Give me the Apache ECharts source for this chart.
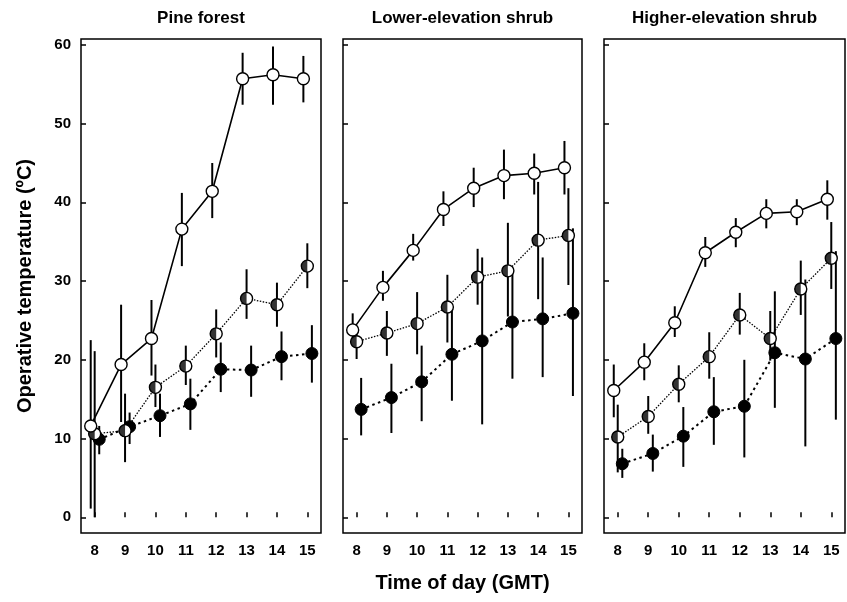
<!DOCTYPE html>
<html>
<head>
<meta charset="utf-8">
<script src="https://cdn.jsdelivr.net/npm/echarts@6/dist/echarts.min.js"></script>
<style>
  html, body { margin: 0; padding: 0; background: #fff; }
  #chart { width: 847px; height: 602px; }
</style>
</head>
<body>
<div id="chart"></div>
<script>
  // hours of the day (GMT) and y ticks
  const hours = [8, 9, 10, 11, 12, 13, 14, 15]
  const yTicks = [0, 10, 20, 30, 40, 50, 60]
  const panelTitles = ['Pine forest', 'Lower-elevation shrub', 'Higher-elevation shrub']

  // Pine forest
  const pine_open = [11.6, 19.4, 22.7, 36.6, 41.4, 55.7, 56.2, 55.7]
  const pine_open_lo = [1.1, 12.1, 18.0, 31.9, 38.0, 52.4, 52.4, 52.7]
  const pine_open_hi = [22.5, 27.0, 27.6, 41.2, 45.0, 59.0, 59.8, 58.6]
  const pine_half = [10.6, 11.0, 16.5, 19.2, 23.3, 27.8, 27.0, 31.9]
  const pine_half_lo = [0.0, 7.0, 14.0, 16.8, 20.3, 25.2, 24.2, 29.1]
  const pine_half_hi = [21.1, 15.7, 19.4, 21.8, 26.4, 31.5, 29.8, 34.8]
  const pine_full = [9.9, 11.5, 12.9, 14.4, 18.8, 18.7, 20.4, 20.8]
  const pine_full_lo = [8.0, 9.3, 10.2, 11.1, 15.9, 15.3, 17.4, 17.1]
  const pine_full_hi = [11.6, 13.3, 15.7, 17.6, 22.2, 21.8, 23.6, 24.4]

  // Lower-elevation shrub
  const low_open = [23.8, 29.2, 33.9, 39.1, 41.8, 43.4, 43.7, 44.4]
  const low_open_lo = [21.8, 27.5, 32.6, 37.0, 39.4, 40.4, 41.0, 41.0]
  const low_open_hi = [25.9, 31.3, 36.0, 41.4, 44.4, 46.7, 46.2, 47.8]
  const low_half = [22.3, 23.4, 24.6, 26.7, 30.5, 31.3, 35.2, 35.8]
  const low_half_lo = [20.1, 20.5, 20.7, 22.2, 27.0, 25.5, 27.7, 29.5]
  const low_half_hi = [24.3, 26.2, 28.6, 30.8, 34.1, 37.4, 42.6, 41.8]
  const low_full = [13.7, 15.2, 17.2, 20.7, 22.4, 24.8, 25.2, 25.9]
  const low_full_lo = [10.4, 10.7, 12.2, 14.8, 11.8, 17.6, 17.8, 15.4]
  const low_full_hi = [17.7, 19.5, 21.8, 26.5, 33.0, 31.4, 33.0, 36.7]

  // Higher-elevation shrub
  const high_open = [16.1, 19.7, 24.7, 33.6, 36.2, 38.6, 38.8, 40.4]
  const high_open_lo = [12.7, 17.4, 22.9, 31.8, 34.3, 36.7, 37.1, 37.8]
  const high_open_hi = [19.4, 22.1, 26.8, 35.6, 38.0, 40.4, 40.4, 42.8]
  const high_half = [10.2, 12.8, 16.9, 20.4, 25.7, 22.7, 29.0, 32.9]
  const high_half_lo = [5.7, 10.6, 14.6, 17.6, 23.2, 19.9, 25.7, 29.0]
  const high_half_hi = [14.3, 15.4, 19.3, 23.5, 28.5, 26.2, 32.6, 37.5]
  const high_full = [6.8, 8.1, 10.3, 13.4, 14.1, 20.9, 20.1, 22.7]
  const high_full_lo = [5.0, 5.8, 6.4, 9.2, 7.6, 13.9, 9.0, 12.4]
  const high_full_hi = [8.7, 10.5, 14.0, 17.8, 20.0, 28.7, 30.2, 33.8]

  const font = 'Liberation Sans, Arial, Helvetica, sans-serif'
  // small horizontal dodge so the three series don't sit on top of each other
  const dodge = { open: -0.13, half: 0.0, full: 0.15 }
  const grids = [
    { left: 81, top: 39, width: 240, height: 494 },
    { left: 343, top: 39, width: 239, height: 494 },
    { left: 604, top: 39, width: 241, height: 494 }
  ]
  const panels = [
    {
      open: [pine_open, pine_open_lo, pine_open_hi],
      half: [pine_half, pine_half_lo, pine_half_hi],
      full: [pine_full, pine_full_lo, pine_full_hi]
    },
    {
      open: [low_open, low_open_lo, low_open_hi],
      half: [low_half, low_half_lo, low_half_hi],
      full: [low_full, low_full_lo, low_full_hi]
    },
    {
      open: [high_open, high_open_lo, high_open_hi],
      half: [high_half, high_half_lo, high_half_hi],
      full: [high_full, high_full_lo, high_full_hi]
    }
  ]

  function points(vals, off) {
    return hours.map((h, i) => [h + off, vals[i]])
  }
  function errRows(lo, hi, off) {
    return hours.map((h, i) => [h + off, lo[i], hi[i]])
  }

  function errorBars(idx, rows) {
    return {
      type: 'custom',
      xAxisIndex: idx, yAxisIndex: idx,
      z: 1,
      silent: true,
      encode: { x: 0, y: [1, 2] },
      data: rows,
      renderItem(params, api) {
        let p1 = api.coord([api.value(0), api.value(1)])
        let p2 = api.coord([api.value(0), api.value(2)])
        return {
          type: 'line',
          shape: { x1: p1[0], y1: p1[1], x2: p2[0], y2: p2[1] },
          style: { stroke: '#000', lineWidth: 2 }
        }
      }
    }
  }

  let xAxes = [], yAxes = [], series = []
  panels.forEach((p, i) => {
    xAxes.push({
      gridIndex: i, type: 'value', min: 7.55, max: 15.45,
      axisLine: { show: false },
      axisTick: { show: true, inside: true, length: 5, customValues: hours, lineStyle: { color: '#000', width: 1.5 } },
      axisLabel: { customValues: hours, color: '#000', fontWeight: 'bold', fontSize: 15, fontFamily: font, margin: 10 },
      splitLine: { show: false },
      name: i === 1 ? 'Time of day (GMT)' : '',
      nameLocation: 'middle',
      nameGap: 40,
      nameTextStyle: { color: '#000', fontWeight: 'bold', fontSize: 20, fontFamily: font }
    })
    yAxes.push({
      gridIndex: i, type: 'value', min: -2, max: 60.75,
      axisLine: { show: false },
      axisTick: { show: true, inside: true, length: 5, customValues: yTicks, lineStyle: { color: '#000', width: 1.5 } },
      axisLabel: { show: i === 0, customValues: yTicks, color: '#000', fontWeight: 'bold', fontSize: 15, fontFamily: font, margin: 10 },
      splitLine: { show: false },
      name: i === 0 ? 'Operative temperature (ºC)' : '',
      nameLocation: 'middle',
      nameGap: 46,
      nameTextStyle: { color: '#000', fontWeight: 'bold', fontSize: 20, fontFamily: font }
    })

    // error bars first so the markers sit on top
    series.push(errorBars(i, errRows(p.open[1], p.open[2], dodge.open)))
    series.push(errorBars(i, errRows(p.half[1], p.half[2], dodge.half)))
    series.push(errorBars(i, errRows(p.full[1], p.full[2], dodge.full)))

    series.push({
      type: 'line', xAxisIndex: i, yAxisIndex: i, z: 3,
      data: points(p.full[0], dodge.full),
      symbol: 'circle', symbolSize: 12,
      itemStyle: { color: '#000', borderColor: '#000', borderWidth: 1 },
      lineStyle: { color: '#000', width: 2, type: [2.5, 3.5] },
      animation: false
    })
    series.push({
      type: 'line', xAxisIndex: i, yAxisIndex: i, z: 4,
      data: points(p.half[0], dodge.half),
      symbol: 'circle', symbolSize: 12,
      itemStyle: { color: '#fff', borderColor: '#000', borderWidth: 1.4 },
      lineStyle: { color: '#000', width: 1.3, type: [1.5, 1.5] },
      animation: false
    })
    // left half of the half-filled markers
    series.push({
      type: 'scatter', xAxisIndex: i, yAxisIndex: i, z: 5,
      data: points(p.half[0], dodge.half),
      symbol: 'path://M10,0 A10,10 0 0 0 10,20 Z',
      symbolSize: [6, 12], symbolOffset: [-3, 0],
      itemStyle: { color: '#000' },
      silent: true,
      animation: false
    })
    series.push({
      type: 'line', xAxisIndex: i, yAxisIndex: i, z: 6,
      data: points(p.open[0], dodge.open),
      symbol: 'circle', symbolSize: 12,
      itemStyle: { color: '#fff', borderColor: '#000', borderWidth: 1.4 },
      lineStyle: { color: '#000', width: 1.6, type: 'solid' },
      animation: false
    })
  })

  let mychart = echarts.init(document.getElementById('chart'))
  mychart.setOption({
    animation: false,
    backgroundColor: '#fff',
    grid: grids.map(g => Object.assign({ show: true, borderColor: '#000', borderWidth: 1.5, backgroundColor: 'transparent' }, g)),
    xAxis: xAxes,
    yAxis: yAxes,
    graphic: panelTitles.map((t, i) => ({
      type: 'text',
      x: grids[i].left + grids[i].width / 2,
      y: 18,
      style: { text: t, fill: '#000', font: 'bold 17px ' + font, align: 'center', verticalAlign: 'middle' }
    })),
    series: series
  })
</script>
</body>
</html>
